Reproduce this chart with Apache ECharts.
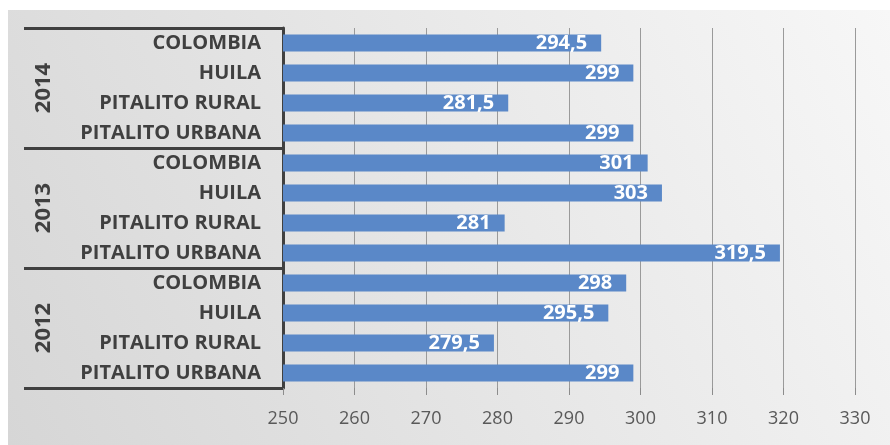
<!DOCTYPE html>
<html><head><meta charset="utf-8">
<script src="https://cdn.jsdelivr.net/npm/echarts@6/dist/echarts.min.js"></script>
<style>html,body{margin:0;padding:0;background:#fff}#c{width:890px;height:445px}</style>
</head><body><div id="c"></div>
<script>
// bottom-to-top order
const years = ['2012', '2013', '2014'];
const places = ['PITALITO URBANA', 'PITALITO RURAL', 'HUILA', 'COLOMBIA'];
const values2012 = [299, 279.5, 295.5, 298];
const values2013 = [319.5, 281, 303, 301];
const values2014 = [299, 281.5, 299, 294.5];
const xTicks = { min: 250, max: 330, interval: 10 };

const categories = [];
const values = [];
[values2012, values2013, values2014].forEach(function (arr) {
  places.forEach(function (p, i) { categories.push(p); values.push(arr[i]); });
});

const chart = echarts.init(document.getElementById('c'));
const FONT = 'Open Sans';
chart.setOption({
  backgroundColor: '#ffffff',
  animation: false,
  graphic: [{
    type: 'rect', z: -100, silent: true,
    shape: { x: 8, y: 10, width: 882, height: 435 },
    style: {
      fill: new echarts.graphic.LinearGradient(0, 1, 1, 0, [
        { offset: 0, color: '#d6d6d6' },
        { offset: 1, color: '#f7f7f7' }
      ])
    }
  }],
  grid: { left: 283, right: 35, top: 28, bottom: 57, containLabel: false },
  xAxis: {
    type: 'value', min: xTicks.min, max: xTicks.max, interval: xTicks.interval,
    axisLine: { show: false },
    axisTick: { show: true, length: 7, lineStyle: { color: '#8c8c8c' } },
    splitLine: { show: true, lineStyle: { color: '#9a9a9a', width: 1 } },
    axisLabel: { color: '#595959', fontFamily: FONT, fontSize: 18, margin: 22 }
  },
  yAxis: [{
    type: 'category', data: categories, position: 'left',
    axisLine: { show: true, lineStyle: { color: '#404040', width: 3 } },
    axisTick: { show: false },
    axisLabel: { color: '#404040', fontFamily: FONT, fontWeight: 'bold', fontSize: 20, margin: 22 }
  }, {
    type: 'category', data: years, position: 'left',
    axisLine: { show: false },
    axisTick: { show: true, inside: false, length: 259, lineStyle: { color: '#404040', width: 3 } },
    axisLabel: { color: '#404040', fontFamily: FONT, fontWeight: 'bold', fontSize: 22, margin: 239, rotate: 90, align: 'center', verticalAlign: 'middle' }
  }],
  series: [{
    type: 'bar', data: values, yAxisIndex: 0, barWidth: '56%',
    itemStyle: { color: '#5a88c8' },
    label: {
      show: true, position: 'insideRight', distance: 14, color: '#ffffff',
      fontFamily: FONT, fontWeight: 'bold', fontSize: 20,
      formatter: function (p) { return String(p.value).replace('.', ','); }
    }
  }]
});
</script></body></html>
